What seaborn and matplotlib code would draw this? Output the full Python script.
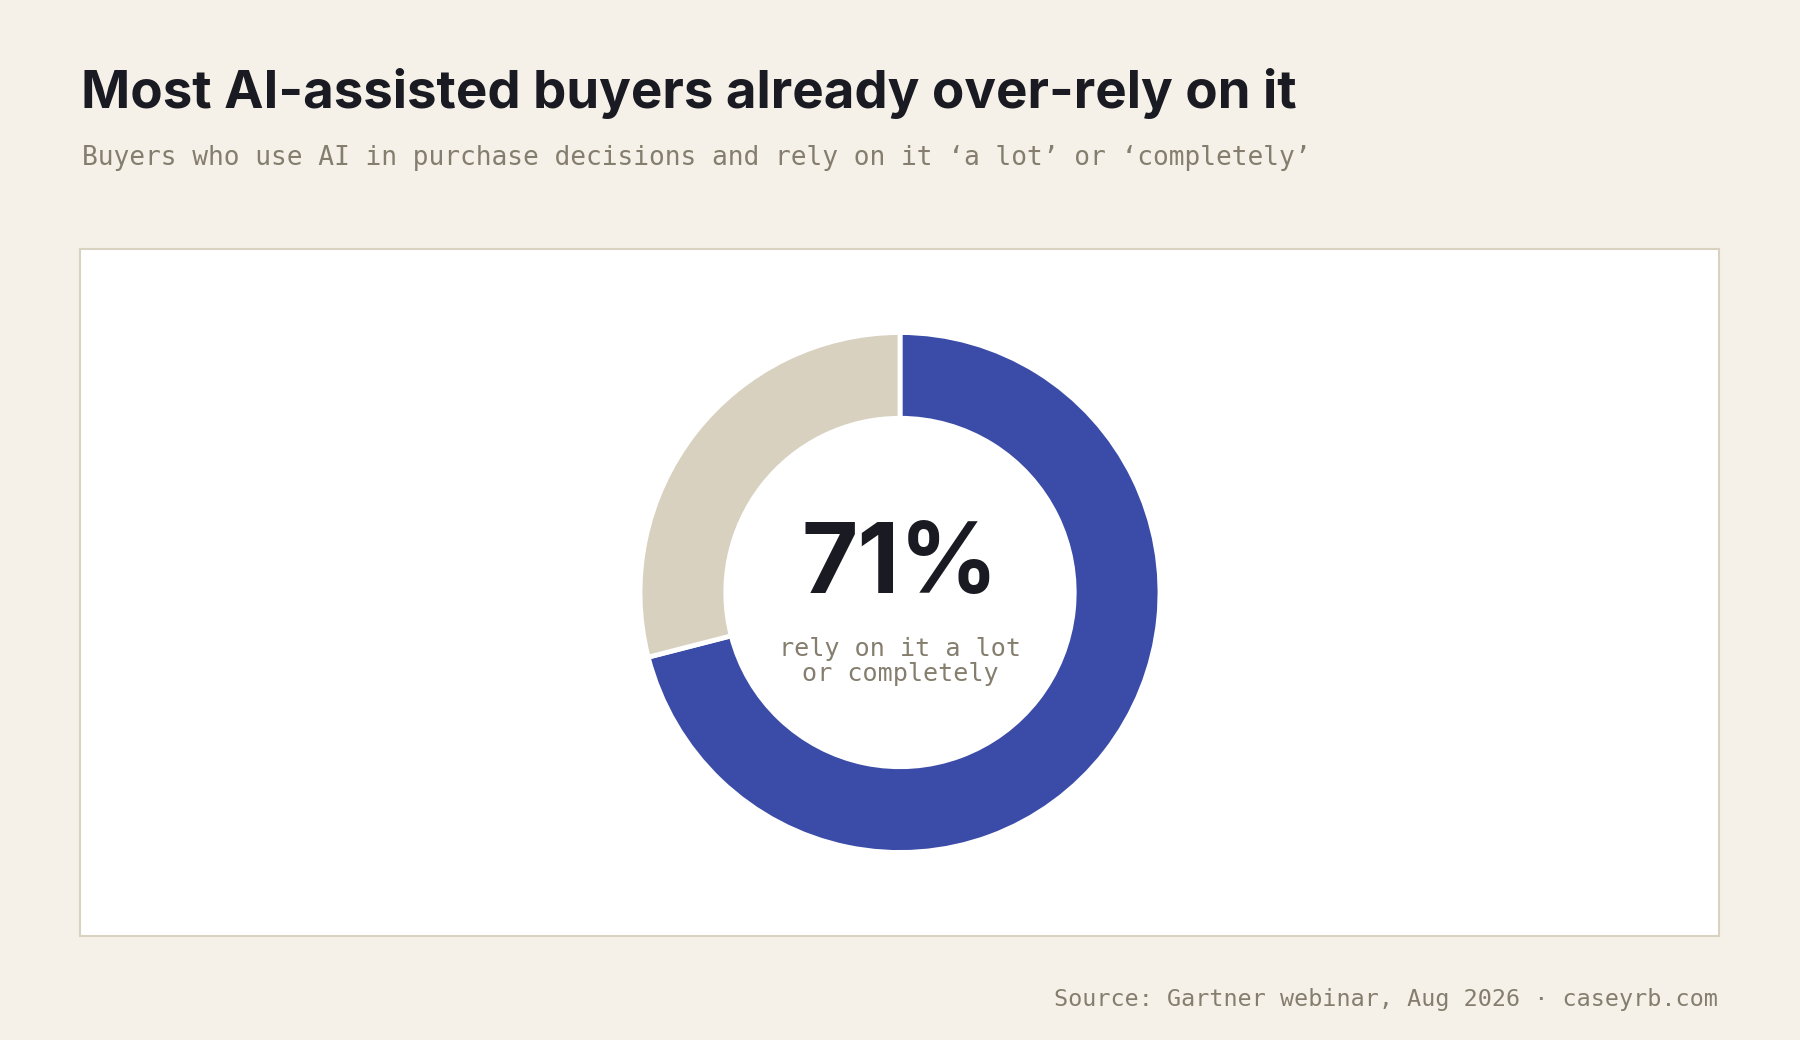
import matplotlib
matplotlib.use("Agg")
import matplotlib.pyplot as plt
from matplotlib.patches import Rectangle
import seaborn as sns

# ---- data ----
categories = ["Rely a lot or completely", "Other"]
values = [71, 29]
title = "Most AI-assisted buyers already over-rely on it"
subtitle = "Buyers who use AI in purchase decisions and rely on it \u2018a lot\u2019 or \u2018completely\u2019"
center_value = "71%"
center_label = ["rely on it a lot", "or completely"]
source = "Source: Gartner webinar, Aug 2026 \u00b7 caseyrb.com"

# ---- style ----
BG = "#f5f1e8"
BLUE = "#3b4ca8"
BEIGE = "#d8d1bf"
DARK = "#1a1a22"
GRAY = "#857e6f"
BORDER = "#d9d2c1"

sns.set_theme(style="white")
plt.rcParams["font.family"] = ["Inter", "DejaVu Sans"]
MONO = ["DejaVu Sans Mono"]

W, H = 1800, 1040
fig = plt.figure(figsize=(W / 100, H / 100), dpi=100, facecolor=BG)

def fx(px):
    return px / W

def fy(py):
    return (H - py) / H

# card
card = Rectangle((fx(80), fy(936)), fx(1719) - fx(80), fy(249) - fy(936),
                 transform=fig.transFigure, facecolor="white",
                 edgecolor=BORDER, linewidth=1.5, zorder=-5)
fig.add_artist(card)

# titles
fig.text(fx(81), fy(108), title, fontsize=38.0, fontweight="bold",
         color=DARK, ha="left", va="baseline")
fig.text(fx(82), fy(165), subtitle, fontsize=18.9, family=MONO,
         color=GRAY, ha="left", va="baseline")
fig.text(fx(1718), fy(1006), source, fontsize=16.8, family=MONO,
         color=GRAY, ha="right", va="baseline")

# donut
cx, cy, r = 900, 592.5, 260
ax = fig.add_axes([fx(cx - r), fy(cy + r), 2 * r / W, 2 * r / H], zorder=1)
palette = sns.color_palette([BLUE, BEIGE])
ax.pie(values, labels=None, startangle=90, counterclock=False, colors=palette,
       radius=1.0, wedgeprops=dict(width=0.33, edgecolor="white", linewidth=3.5))
ax.set_xlim(-1, 1)
ax.set_ylim(-1, 1)
ax.set_aspect("equal")
ax.axis("off")

ax.text(0.5, 0.5, center_value, transform=ax.transAxes, fontsize=70,
        fontweight="bold", color=DARK, ha="center", va="baseline")
fig.text(fx(cx), fy(656), center_label[0], fontsize=18.1, family=MONO,
         color=GRAY, ha="center", va="baseline", zorder=5)
fig.text(fx(cx), fy(681), center_label[1], fontsize=18.1, family=MONO,
         color=GRAY, ha="center", va="baseline", zorder=5)

fig.savefig("out.png", dpi=100, facecolor=BG)
